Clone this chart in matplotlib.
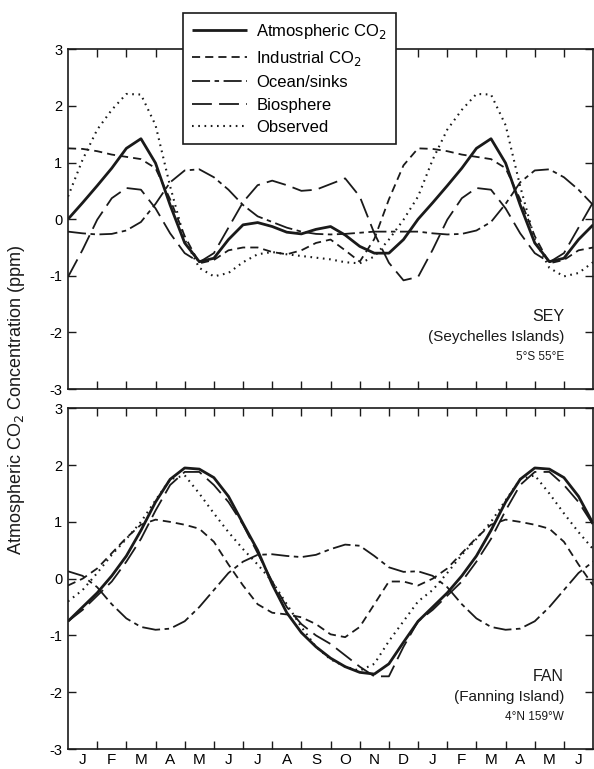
import numpy as np
import matplotlib
matplotlib.use("Agg")
import matplotlib.pyplot as plt

plt.rcParams['font.family'] = ['Liberation Sans', 'DejaVu Sans']
plt.rcParams['axes.unicode_minus'] = False

# one annual cycle read at half-month steps (Jan 1 .. next Jan 1), repeated for 18 months
sey_atm = [0.0, 0.29, 0.59, 0.90, 1.25, 1.42, 0.99, 0.25, -0.42, -0.75, -0.69, -0.36, -0.10,
           -0.06, -0.13, -0.23, -0.26, -0.18, -0.13, -0.28, -0.48, -0.60, -0.60, -0.36, 0.0]
sey_ind = [1.25, 1.24, 1.20, 1.14, 1.10, 1.06, 0.90, 0.35, -0.30, -0.78, -0.72, -0.55, -0.50,
           -0.50, -0.58, -0.62, -0.55, -0.42, -0.36, -0.55, -0.75, -0.35, 0.35, 0.95, 1.25]
sey_ocean = [-0.22, -0.25, -0.27, -0.26, -0.20, -0.05, 0.27, 0.65, 0.86, 0.88, 0.74, 0.52, 0.25,
             0.05, -0.05, -0.15, -0.22, -0.26, -0.27, -0.26, -0.24, -0.22, -0.22, -0.22, -0.22]
sey_bio = [-1.02, -0.54, -0.01, 0.37, 0.55, 0.52, 0.19, -0.25, -0.60, -0.76, -0.60, -0.15, 0.30,
           0.60, 0.68, 0.60, 0.50, 0.52, 0.62, 0.72, 0.40, -0.25, -0.77, -1.08, -1.02]
sey_obs = [0.40, 1.05, 1.58, 1.93, 2.21, 2.20, 1.66, 0.58, -0.36, -0.86, -1.01, -0.95, -0.76,
           -0.62, -0.58, -0.62, -0.65, -0.68, -0.71, -0.76, -0.78, -0.66, -0.36, -0.01, 0.40]

fan_atm = [-0.75, -0.50, -0.25, 0.05, 0.40, 0.85, 1.35, 1.75, 1.95, 1.93, 1.78, 1.45, 0.97,
           0.50, -0.10, -0.60, -0.95, -1.20, -1.40, -1.55, -1.65, -1.68, -1.50, -1.12, -0.75]
fan_ind = [-0.12, 0.0, 0.18, 0.45, 0.72, 0.95, 1.04, 1.00, 0.95, 0.88, 0.65, 0.25, -0.12,
           -0.45, -0.60, -0.63, -0.68, -0.80, -0.98, -1.03, -0.85, -0.45, -0.05, -0.05, -0.12]
fan_ocean = [0.13, 0.05, -0.15, -0.45, -0.70, -0.85, -0.90, -0.88, -0.75, -0.50, -0.20, 0.10, 0.30,
             0.42, 0.43, 0.40, 0.38, 0.42, 0.52, 0.60, 0.58, 0.40, 0.20, 0.12, 0.13]
fan_bio = [-0.75, -0.55, -0.30, -0.05, 0.30, 0.70, 1.20, 1.65, 1.88, 1.88, 1.65, 1.35, 0.95,
           0.45, -0.05, -0.50, -0.80, -1.00, -1.15, -1.35, -1.55, -1.72, -1.72, -1.20, -0.75]
fan_obs = [-0.40, -0.20, 0.10, 0.42, 0.70, 1.00, 1.38, 1.75, 1.82, 1.50, 1.15, 0.82, 0.52,
           0.25, -0.05, -0.45, -0.85, -1.20, -1.42, -1.55, -1.62, -1.50, -1.10, -0.75, -0.40]

month_labels = ['J', 'F', 'M', 'A', 'M', 'J', 'J', 'A', 'S', 'O', 'N', 'D',
                'J', 'F', 'M', 'A', 'M', 'J']
series_names = ['Atmospheric CO$_2$', 'Industrial CO$_2$', 'Ocean/sinks', 'Biosphere', 'Observed']

stations = [
    ('SEY', '(Seychelles Islands)', '5°S 55°E', [sey_atm, sey_ind, sey_ocean, sey_bio, sey_obs]),
    ('FAN', '(Fanning Island)', '4°N 159°W', [fan_atm, fan_ind, fan_ocean, fan_bio, fan_obs]),
]

ink = '#1a1a1a'
styles = [
    dict(lw=2.0, ls='-'),
    dict(lw=1.3, ls=(0, (4.5, 2.8))),
    dict(lw=1.3, ls=(0, (10, 2.5, 2.5, 2.5))),
    dict(lw=1.3, ls=(0, (11, 4))),
    dict(lw=1.5, ls=(0, (0.8, 2.2))),
]

n_months = len(month_labels)
x = np.arange(0, n_months + 0.01, 0.5)


def extend(vals):
    vals = np.asarray(vals)
    extra = len(x) - len(vals)
    return np.concatenate([vals, vals[1:extra + 1]])


fig = plt.figure(figsize=(5.94, 7.69), dpi=100)
ax_top = fig.add_axes([0.1145, 0.494, 0.884, 0.442])
ax_bot = fig.add_axes([0.1145, 0.026, 0.884, 0.443])

handles = []
for ax, (code, name, loc, data) in zip([ax_top, ax_bot], stations):
    for vals, st, lab in zip(data, styles, series_names):
        h, = ax.plot(x, extend(vals), color=ink, label=lab, solid_capstyle='butt',
                     dash_capstyle='butt', solid_joinstyle='round', **st)
        if ax is ax_top:
            handles.append(h)
    ax.set_xlim(0, n_months)
    ax.set_ylim(-3, 3)
    ax.set_yticks(range(-3, 4))
    ax.set_yticklabels([str(v) for v in range(-3, 4)], fontsize=10.5)
    ax.set_xticks(range(1, n_months))
    ax.set_xticklabels([])
    ax.set_xticks(np.arange(0.5, n_months, 1.0), minor=True)
    ax.tick_params(axis='both', which='major', direction='in', length=6, width=1,
                   top=True, right=True, color=ink, pad=4)
    ax.tick_params(axis='x', which='minor', length=0)
    for sp in ax.spines.values():
        sp.set_linewidth(1.2)
        sp.set_color(ink)
    ax.text(17.0, -1.72, code, ha='right', va='center', fontsize=11.5, color=ink)
    ax.text(17.0, -2.08, name, ha='right', va='center', fontsize=11, color=ink)
    ax.text(17.0, -2.43, loc, ha='right', va='center', fontsize=8.5, color=ink)

ax_top.set_xticklabels([], minor=True)
ax_bot.set_xticklabels(month_labels, minor=True, fontsize=11)
ax_bot.tick_params(axis='x', which='minor', pad=3)

fig.text(0.027, 0.48, 'Atmospheric CO$_2$ Concentration (ppm)', rotation=90,
         ha='center', va='center', fontsize=13, color=ink)

leg = fig.legend(handles=handles, loc='upper left', bbox_to_anchor=(0.308, 0.983),
                 fontsize=12, handlelength=3.3, labelspacing=0.45, borderpad=0.55,
                 handletextpad=0.55, borderaxespad=0, frameon=True, fancybox=False,
                 framealpha=1, edgecolor=ink)
leg.get_frame().set_linewidth(1.2)

fig.savefig('out.png', dpi=100)
